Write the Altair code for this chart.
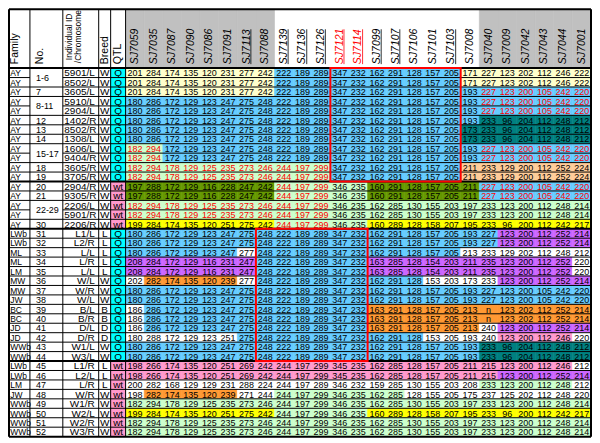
import altair as alt
import pandas as pd

# ---------------- data ----------------
markers = ["SJ7059", "SJ7035", "SJ7087", "SJ7090", "SJ7086", "SJ7091", "SJ7113", "SJ7088",
           "SJ7139", "SJ7136", "SJ7126", "SJ7121", "SJ7114", "SJ7099", "SJ7107", "SJ7106",
           "SJ7101", "SJ7103", "SJ7008", "SJ7040", "SJ7009", "SJ7042", "SJ7043", "SJ7044", "SJ7001"]
red_markers = ["SJ7121", "SJ7114"]
underlined_markers = ["SJ7113", "SJ7139", "SJ7136", "SJ7126", "SJ7121", "SJ7114", "SJ7099", "SJ7107", "SJ7103"]
gray_markers = ["SJ7059", "SJ7035", "SJ7087", "SJ7090", "SJ7086", "SJ7091", "SJ7113", "SJ7088",
                "SJ7040", "SJ7009", "SJ7042", "SJ7043", "SJ7044", "SJ7001"]

families = ["AY", "AY", "AY", "AY", "AY", "AY", "AY", "AY", "AY", "AY", "AY", "AY", "AY", "AY", "AY", "AY", "AY",
            "LWb", "LWb", "ML", "ML", "LM", "MW", "MW", "JW", "BC", "BC", "JD", "JD", "WWb", "WWb",
            "LWb", "LWb", "LM", "JW", "WWb", "WWb", "WWb", "WWb"]
numbers = ["1-6", "", "7", "8-11", "", "12", "13", "14", "15-17", "", "18", "19", "20", "21", "22-29", "", "30",
           "31", "32", "33", "34", "35", "36", "37", "38", "39", "40", "41", "42", "43", "44",
           "45", "46", "47", "48", "49", "50", "51", "52"]
ids = ["5901/L", "8502/L", "3605/L", "5910/L", "2904/L", "1402/R", "8502/R", "1308/L", "1606/L", "9404/R",
       "3605/R", "3705/R", "2904/R", "9305/R", "2206/L", "5901/R", "2206/R",
       "L1/L", "L2/R", "L/L", "L/R", "L/L", "W/L", "W/R", "W/L", "B/L", "B/R", "D/L", "D/R", "W1/L", "W3/L",
       "L1/R", "L2/L", "L/R", "W/R", "W1/R", "W2/L", "W2/R", "W3/R"]
breeds = ["W", "W", "W", "W", "W", "W", "W", "W", "W", "W", "W", "W", "W", "W", "W", "W", "W",
          "L", "L", "L", "L", "L", "W", "W", "W", "B", "B", "D", "D", "W", "W",
          "L", "L", "L", "W", "W", "W", "W", "W"]
qtl = ["Q", "Q", "Q", "Q", "Q", "Q", "Q", "Q", "Q", "Q", "Q", "Q", "wt", "wt", "wt", "wt", "wt",
       "Q", "Q", "Q", "Q", "Q", "Q", "Q", "Q", "Q", "Q", "Q", "Q", "Q", "Q",
       "wt", "wt", "wt", "wt", "wt", "wt", "wt", "wt"]

genotypes = [
    "201 284 174 135 120 231 277 242 222 189 289 347 232 162 291 128 157 205 171 227 123 202 112 246 222",
    "201 284 174 135 120 231 277 242 222 189 289 347 232 162 291 128 157 205 171 227 123 202 112 246 222",
    "201 284 174 135 120 231 277 242 222 189 289 347 232 162 291 128 157 205 193 227 123 200 105 242 220",
    "180 286 172 129 123 247 275 248 222 189 289 347 232 162 291 128 157 205 193 227 123 200 105 242 220",
    "180 286 172 129 123 247 275 248 222 189 289 347 232 162 291 128 157 205 193 227 123 200 105 242 220",
    "180 286 172 129 123 247 275 248 222 189 289 347 232 162 291 128 157 205 193 233 96 204 112 248 212",
    "180 286 172 129 123 247 275 248 222 189 289 347 232 162 291 128 157 205 173 233 96 204 112 248 212",
    "180 286 172 129 123 247 275 248 222 189 289 347 232 162 291 128 157 205 173 233 96 204 112 248 212",
    "182 294 172 129 123 247 275 248 222 189 289 347 232 162 291 128 157 205 193 227 123 200 105 242 220",
    "182 294 172 129 123 247 275 248 222 189 289 347 232 162 291 128 157 205 193 227 123 200 105 242 220",
    "182 294 178 129 125 235 273 246 244 197 299 347 232 162 291 128 157 205 211 233 129 200 112 252 224",
    "182 294 178 129 125 235 273 246 244 197 299 347 232 162 291 128 157 205 211 233 129 200 112 252 224",
    "197 288 172 129 116 228 247 242 244 197 299 346 235 160 291 128 157 205 211 227 123 200 105 242 220",
    "197 288 172 129 116 228 247 242 244 197 299 346 235 160 291 128 157 205 211 227 123 200 105 242 220",
    "182 294 178 129 125 235 273 246 244 197 299 346 235 162 285 130 155 203 197 233 123 200 112 248 214",
    "182 294 178 129 125 235 273 246 244 197 299 346 235 162 285 130 155 203 197 233 123 200 112 248 214",
    "199 284 174 135 120 251 275 242 244 197 299 346 235 160 289 128 158 207 195 233 96 200 112 242 217",
    "180 286 172 129 123 247 275 248 222 189 289 347 232 162 291 128 157 205 193 227 123 200 112 252 214",
    "180 286 172 129 123 247 275 248 222 189 289 347 232 162 291 128 157 205 193 227 123 200 112 252 214",
    "180 286 172 129 123 247 277 248 222 189 289 347 232 162 291 128 157 205 213 233 129 202 112 248 212",
    "208 284 172 129 116 231 247 248 222 189 289 347 232 163 285 128 154 203 211 235 123 200 112 252 220",
    "208 284 172 129 116 231 247 248 222 189 289 347 232 163 285 128 154 203 211 235 123 200 112 252 220",
    "202 282 174 135 120 239 277 248 222 189 289 347 232 162 291 128 153 203 173 233 123 200 112 252 214",
    "180 286 172 129 123 247 275 248 222 189 289 347 232 162 291 128 157 205 193 227 123 200 105 242 220",
    "180 286 172 129 123 247 275 248 222 189 289 347 232 162 291 128 157 205 193 227 123 200 105 242 220",
    "186 286 172 129 123 247 275 248 222 189 289 347 232 163 291 128 157 205 213 n 123 202 112 252 214",
    "186 286 172 129 123 247 275 248 222 189 289 347 232 163 291 128 157 205 213 n 123 202 112 252 214",
    "186 286 172 129 123 247 275 248 222 189 289 347 232 163 291 128 157 205 213 240 123 200 112 252 214",
    "180 288 172 129 123 251 275 248 222 189 289 347 232 162 291 128 153 205 193 240 123 200 112 246 220",
    "180 286 172 129 123 247 275 248 222 189 289 347 232 162 291 128 157 205 193 233 96 204 112 248 212",
    "180 286 172 129 123 247 275 248 222 189 289 347 232 162 291 128 157 205 193 233 96 204 112 248 212",
    "198 266 174 135 120 251 269 242 244 197 299 345 235 162 285 128 157 205 211 215 123 200 112 246 212",
    "198 266 174 135 120 251 269 242 244 197 299 345 235 162 285 128 157 205 211 215 123 200 112 252 214",
    "200 282 168 129 129 231 288 224 244 197 289 346 232 159 285 130 155 203 208 233 123 200 112 248 212",
    "198 282 174 135 120 239 271 244 244 197 299 346 235 162 285 128 155 205 175 237 125 202 112 248 220",
    "182 294 178 129 125 235 273 246 244 197 299 346 235 162 285 130 155 203 197 233 123 200 112 248 214",
    "199 284 174 135 120 251 275 242 244 197 299 346 235 160 289 128 158 207 195 233 96 200 112 242 217",
    "182 294 178 129 125 235 273 246 244 197 299 346 235 162 285 130 155 203 197 233 123 200 112 248 214",
    "182 294 178 129 125 235 273 246 244 197 299 346 235 162 285 130 155 203 197 233 123 200 112 248 214",
]

# cell colour codes, one letter per marker column
cell_colors = [
    "CCCCCCCCBBBBBBBBBBCCCCCCC",
    "CCCCCCCCBBBBBBBBBBCCCCCCC",
    "CCCCCCCCBBBBBBBBBBBBBBBBB",
    "BBBBBBBBBBBBBBBBBBBBBBBBB",
    "BBBBBBBBBBBBBBBBBBBBBBBBB",
    "BBBBBBBBBBBBBBBBBBBTTTTTT",
    "BBBBBBBBBBBBBBBBBBTTTTTTT",
    "BBBBBBBBBBBBBBBBBBTTTTTTT",
    "GGBBBBBBBBBBBBBBBBBBBBBBB",
    "GGBBBBBBBBBBBBBBBBBBBBBBB",
    "GGGGGGGGGGGBBBBBBBPPPPPPP",
    "GGGGGGGGGGGBBBBBBBPPPPPPP",
    "OOOOOOOOGGGGGOOOOOOBBBBBB",
    "OOOOOOOOGGGGGOOOOOOBBBBBB",
    "GGGGGGGGGGGGGGGGGGGGGGGGG",
    "GGGGGGGGGGGGGGGGGGGGGGGGG",
    "YYYYYYYYGGGGGYYYYYYYYYYYY",
    "BBBBBBBBBBBBBBBBBBBBUUUUU",
    "BBBBBBBBBBBBBBBBBBBBUUUUU",
    "BBBBBBWBBBBBBBBBBBWWWWWWW",
    "UUUUUUUBBBBBBUUUUUUUUUUUW",
    "UUUUUUUBBBBBBUUUUUUUUUUUW",
    "WRRRRRWBBBBBBBBBWWWWUUUUU",
    "BBBBBBBBBBBBBBBBBBBBBBBBB",
    "BBBBBBBBBBBBBBBBBBBBBBBBB",
    "WBBBBBBBBBBBBRRRRRRRRRRRR",
    "WBBBBBBBBBBBBRRRRRRRRRRRR",
    "WBBBBBBBBBBBBRRRRRRWUUUUU",
    "WWWWWWBBBBBBBBBBWWWWKKKKW",
    "BBBBBBBBBBBBBBBBBBBTTTTTT",
    "BBBBBBBBBBBBBBBBBBBTTTTTT",
    "KKKKKKKKKKKKKKKKKKKKKKKKW",
    "KKKKKKKKKKKKKKKKKKKKUUUUU",
    "WWWWWWWWWWWWWWWWWWWGGGGGW",
    "WRRRRRWWGGGGGGGWWWWWWWWWW",
    "GGGGGGGGGGGGGGGGGGGGGGGGG",
    "YYYYYYYYGGGGGYYYYYYYYYYYY",
    "GGGGGGGGGGGGGGGGGGGGGGGGG",
    "GGGGGGGGGGGGGGGGGGGGGGGGG",
]

# r = red allele text
red_text = [
    ".........................",
    ".........................",
    "...................rrrrrr",
    "...................rrrrrr",
    "...................rrrrrr",
    ".........................",
    ".........................",
    ".........................",
    "rr.................rrrrrr",
    "rr.................rrrrrr",
    "rrrrrrrrrrr..............",
    "rrrrrrrrrrr..............",
    "........rrr........rrrrrr",
    "........rrr........rrrrrr",
    "rrrrrrrrrrr..............",
    "rrrrrrrrrrr..............",
    "........rrr..............",
] + ["........................."] * 22

# red boxes: (first marker, last marker, first row, last row)
red_boxes = [("SJ7121", "SJ7103", 0, 11), ("SJ7088", "SJ7114", 17, 30)]
thick_after_rows = [0, 12, 17, 31, 39]

# ---------------- styles ----------------
palette = {"C": "#FFFFCC", "B": "#66CCFF", "T": "#008080", "G": "#CCFFCC", "O": "#669900",
           "Y": "#FFFF00", "P": "#FFCC99", "U": "#CC66FF", "W": "#FFFFFF", "R": "#FF9933",
           "K": "#FF99CC"}
qtl_fill = {"Q": "#00FFFF", "wt": "#FF99CC"}
HEADER_GRAY = "#C0C0C0"
FONT = "Liberation Sans"
left_w = [21, 33, 36, 12, 15]
MW = 18.68
HEAD = 59.0
RH = 9.49
LABEL_LEN = 35.0   # length of a rotated marker label, for its underline

n_rows = len(ids)
for s in cell_colors + red_text:
    assert len(s) == len(markers)
assert len(cell_colors) == n_rows and len(red_text) == n_rows and len(genotypes) == n_rows

edges = [0]
for w in left_w:
    edges.append(edges[-1] + w)
M0 = edges[-1]
W = M0 + MW * len(markers)
H = HEAD + RH * n_rows

sx = alt.Scale(domain=[0, W], nice=False, zero=False)
sy = alt.Scale(domain=[0, H], nice=False, zero=False, reverse=True)

# ---------------- frames ----------------
cells, texts = [], []
for r in range(n_rows):
    vals = genotypes[r].split()
    for c, m in enumerate(markers):
        cells.append(dict(x=M0 + c * MW, x2=M0 + (c + 1) * MW, y=HEAD + r * RH, y2=HEAD + (r + 1) * RH,
                          fill=palette[cell_colors[r][c]]))
        texts.append(dict(x=M0 + (c + 0.5) * MW, y=HEAD + (r + 0.5) * RH, label=vals[c],
                          tc="#FF0000" if red_text[r][c] == "r" else "#000000"))
    cells.append(dict(x=edges[4], x2=edges[5], y=HEAD + r * RH, y2=HEAD + (r + 1) * RH, fill=qtl_fill[qtl[r]]))
for c, m in enumerate(markers):
    if m in gray_markers:
        cells.append(dict(x=M0 + c * MW, x2=M0 + (c + 1) * MW, y=0, y2=HEAD, fill=HEADER_GRAY))
cells_df = pd.DataFrame(cells)
texts_df = pd.DataFrame(texts)

left_f, left_n, left_l, left_r, left_c = [], [], [], [], []
for r in range(n_rows):
    yc = HEAD + (r + 0.5) * RH
    left_f.append(dict(x=edges[0] + 1.2, y=yc, label=families[r]))
    if numbers[r]:
        span = 1
        while r + span < n_rows and numbers[r + span] == "":
            span += 1
        left_n.append(dict(x=edges[1] + 6, y=HEAD + (r + span / 2) * RH, label=numbers[r]))
    if families[r] == "AY":
        left_l.append(dict(x=edges[2] + 1.5, y=yc, label=ids[r]))
    else:
        left_r.append(dict(x=edges[3] - 4, y=yc, label=ids[r]))
    left_c.append(dict(x=(edges[3] + edges[4]) / 2, y=yc, label=breeds[r]))
    left_c.append(dict(x=(edges[4] + edges[5]) / 2, y=yc, label=qtl[r]))
left_f = pd.DataFrame(left_f)
left_n = pd.DataFrame(left_n)
left_l = pd.DataFrame(left_l)
left_r = pd.DataFrame(left_r)
left_c = pd.DataFrame(left_c)

hlines = [dict(x=0, x2=W, y=0, sw=2)]
for i in range(n_rows + 1):
    yy = HEAD + i * RH
    sw = 2 if i in thick_after_rows else 1
    if 0 < i < n_rows and numbers[i] == "":
        hlines.append(dict(x=0, x2=edges[1], y=yy, sw=sw))
        hlines.append(dict(x=edges[2], x2=W, y=yy, sw=sw))
    else:
        hlines.append(dict(x=0, x2=W, y=yy, sw=sw))
hlines = pd.DataFrame(hlines)

vlines = [dict(x=e, y=0, y2=H, sw=2 if e == 0 else 1) for e in edges]
vlines.append(dict(x=W, y=0, y2=H, sw=2))
vlines = pd.DataFrame(vlines)

boxes = []
for m1, m2, r1, r2 in red_boxes:
    c1, c2 = markers.index(m1), markers.index(m2)
    boxes.append(dict(x=M0 + c1 * MW, x2=M0 + (c2 + 1) * MW, y=HEAD + r1 * RH, y2=HEAD + (r2 + 1) * RH))
boxes = pd.DataFrame(boxes)

head_m = pd.DataFrame([dict(x=M0 + (c + 0.5) * MW, y=HEAD - 4, label=m,
                            tc="#FF0000" if m in red_markers else "#000000") for c, m in enumerate(markers)])
ulines = pd.DataFrame([dict(x=M0 + (c + 0.5) * MW + 4.3, y=HEAD - 4, y2=HEAD - 4 - LABEL_LEN,
                            tc="#FF0000" if m in red_markers else "#000000")
                       for c, m in enumerate(markers) if m in underlined_markers])
head_l = pd.DataFrame([
    dict(x=edges[0] + 6.5, y=HEAD - 4, label="Family", fs=10.5),
    dict(x=edges[1] + 10, y=HEAD - 4, label="No.", fs=10.5),
    dict(x=edges[2] + 6, y=HEAD - 8, label="Individual ID", fs=8.5),
    dict(x=edges[2] + 15.5, y=HEAD - 5, label="/Chromosome", fs=8.5),
    dict(x=(edges[3] + edges[4]) / 2, y=HEAD - 4, label="Breed", fs=10.5),
    dict(x=(edges[4] + edges[5]) / 2, y=HEAD - 4, label="QTL", fs=10.5),
])

X = lambda f="x": alt.X(f"{f}:Q", scale=sx, axis=None)
Y = lambda f="y": alt.Y(f"{f}:Q", scale=sy, axis=None)

rect_layer = alt.Chart(cells_df).mark_rect(strokeWidth=0.6).encode(
    x=X(), x2="x2:Q", y=Y(), y2="y2:Q",
    fill=alt.Fill("fill:N", scale=None), stroke=alt.Stroke("fill:N", scale=None))

val_layer = alt.Chart(texts_df).mark_text(font=FONT, fontSize=9, align="center", baseline="middle", dy=0.5).encode(
    x=X(), y=Y(), text="label:N", color=alt.Color("tc:N", scale=None))


def left_text(df, align, size):
    return alt.Chart(df).mark_text(font=FONT, fontSize=size, align=align, baseline="middle", dy=0.5,
                                   color="#000000").encode(x=X(), y=Y(), text="label:N")


lf_layer = left_text(left_f, "left", 8.5)
ln_layer = left_text(left_n, "left", 9)
ll_layer = left_text(left_l, "left", 10)
lr_layer = left_text(left_r, "right", 10)
lc_layer = left_text(left_c, "center", 10)

h_layer = alt.Chart(hlines).mark_rule(color="#000000").encode(
    x=X(), x2="x2:Q", y=Y(), strokeWidth=alt.StrokeWidth("sw:Q", scale=None))
v_layer = alt.Chart(vlines).mark_rule(color="#000000").encode(
    x=X(), y=Y(), y2="y2:Q", strokeWidth=alt.StrokeWidth("sw:Q", scale=None))
box_layer = alt.Chart(boxes).mark_rect(fillOpacity=0, stroke="#FF0000", strokeWidth=2).encode(
    x=X(), x2="x2:Q", y=Y(), y2="y2:Q")

hm_layer = alt.Chart(head_m).mark_text(font=FONT, fontSize=10.5, fontStyle="italic", angle=270,
                                       align="left", baseline="middle").encode(
    x=X(), y=Y(), text="label:N", color=alt.Color("tc:N", scale=None))
ul_layer = alt.Chart(ulines).mark_rule(strokeWidth=0.8).encode(
    x=X(), y=Y(), y2="y2:Q", color=alt.Color("tc:N", scale=None))
hl_layer = alt.Chart(head_l).mark_text(font=FONT, angle=270, align="left", baseline="middle",
                                       color="#000000").encode(
    x=X(), y=Y(), text="label:N", size=alt.Size("fs:Q", scale=None))

chart = alt.layer(rect_layer, val_layer, lf_layer, ln_layer, ll_layer, lr_layer, lc_layer, h_layer, v_layer,
                  box_layer, hm_layer, ul_layer, hl_layer).properties(
    width=585, height=430, padding=0,
    autosize=alt.AutoSizeParams(type="fit", contains="padding")
).configure_view(stroke=None)

chart.save("out.html", embed_options={"renderer": "svg", "actions": False})
